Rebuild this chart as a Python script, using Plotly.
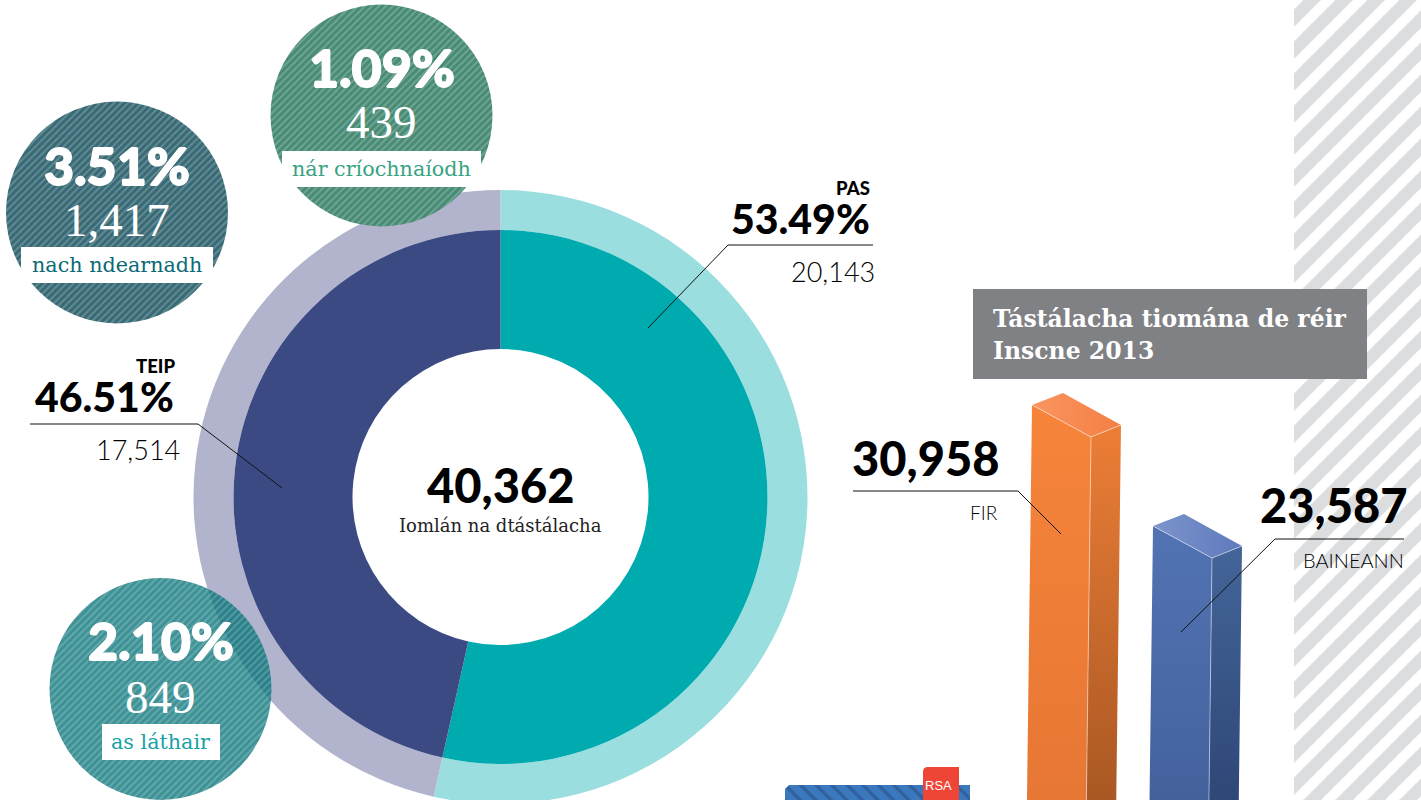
import plotly.graph_objects as go

# ---- data ----
result_labels = ["PAS", "TEIP"]
result_counts = [20143, 17514]
result_pcts = ["53.49%", "46.51%"]
total_tests = "40,362"
total_label = "Iomlán na dtástálacha"
other_labels = ["nach ndearnadh", "nár críochnaíodh", "as láthair"]
other_pcts = ["3.51%", "1.09%", "2.10%"]
other_counts = [1417, 439, 849]
gender_labels = ["FIR", "BAINEANN"]
gender_counts = [30958, 23587]
chart_title = ["Tástálacha tiomána de réir", "Inscne 2013"]

# ---- canvas helpers ----
W, H = 1421, 820
K = 121 / 7371            # pixels per test on the bar scale
BASE = 405 + 30958 * K    # pixel row of a zero-height bar
def pv(py):               # pixel row -> bar-axis value
    return (BASE - py) / K
def yp(py):               # pixel row -> paper
    return 1 - py / H

HEAVY = "Lato"
LIGHT = "Lato"
SLAB = "DejaVu Serif"
THIN_SERIF = "Liberation Serif"

traces = []

# striped background band
traces.append(go.Scatter(
    x=[1294, W, W, 1294, 1294], y=[pv(H), pv(H), pv(0), pv(0), pv(H)],
    mode="none", fill="toself", hoverinfo="skip", showlegend=False,
    fillcolor="white",
    fillpattern=dict(shape="/", fgcolor="#DCDDDF", bgcolor="white", fgopacity=1, size=22.63, solidity=0.55),
))

# blurred logo strip at the bottom
traces.append(go.Scatter(
    x=[789, 970, 970, 785, 785, 789], y=[pv(785), pv(785), pv(H), pv(H), pv(789), pv(785)],
    mode="none", fill="toself", hoverinfo="skip", showlegend=False,
    fillcolor="#3C78BE",
    fillpattern=dict(shape="\\", fgcolor="#2F619F", bgcolor="#3C78BE", fgopacity=1, size=11, solidity=0.3),
))

# 3-D bars built from the values
bar_geo = [
    dict(left=1032, front=1091, right=1121,
         f=("#F6843A", "#E67634"), s=("#EC7E37", "#A65622"), t=("#F99561", "#F47F43")),
    dict(left=1153, front=1212, right=1242,
         f=("#5273B3", "#43609C"), s=("#446599", "#2C4574"), t=("#7C95CC", "#5F79BC")),
]
SLOPE = 0.0127
def vgrad(c):
    return dict(type="vertical", colorscale=[[0, c[1]], [1, c[0]]])
for val, g in zip(gender_counts, bar_geo):
    top = BASE - val * K
    xl, xf, xr = g["left"], g["front"], g["right"]
    yl, yf, yr, yb = top, top + 32, top + 20, top - 12
    dx = lambda py, x0, y0: x0 - SLOPE * (py - y0)
    traces.append(go.Scatter(
        x=[xl, xf, dx(H, xf, yf), dx(H, xl, yl), xl], y=[pv(yl), pv(yf), pv(H), pv(H), pv(yl)],
        mode="none", fill="toself", fillgradient=vgrad(g["f"]), hoverinfo="skip", showlegend=False))
    traces.append(go.Scatter(
        x=[xf, xr, dx(H, xr, yr), dx(H, xf, yf), xf], y=[pv(yf), pv(yr), pv(H), pv(H), pv(yf)],
        mode="none", fill="toself", fillgradient=vgrad(g["s"]), hoverinfo="skip", showlegend=False))
    traces.append(go.Scatter(
        x=[xl, xl + 31, xr, xf, xl], y=[pv(yl), pv(yb), pv(yr), pv(yf), pv(yl)],
        mode="none", fill="toself",
        fillgradient=dict(type="horizontal", colorscale=[[0, g["t"][0]], [1, g["t"][1]]]),
        hoverinfo="skip", showlegend=False))
    traces.append(go.Scatter(
        x=[xl, xf, xr, None, xf, dx(H, xf, yf)], y=[pv(yl), pv(yf), pv(yr), None, pv(yf), pv(H)],
        mode="lines", line=dict(color="rgba(255,255,255,0.6)", width=0.8),
        hoverinfo="skip", showlegend=False))

# donut rings
def pie_domain(cx, cy, r):
    return dict(x=[(cx - r) / W, (cx + r) / W], y=[1 - (cy + r) / H, 1 - (cy - r) / H])

CX, CY = 500.5, 497
traces.append(go.Pie(
    values=result_counts, labels=result_labels, sort=False, direction="clockwise", rotation=0,
    hole=267 / 307, domain=pie_domain(CX, CY, 307), textinfo="none", showlegend=False,
    marker=dict(colors=["#9BDEDF", "#B1B4CC"], line=dict(width=0))))
traces.append(go.Pie(
    values=result_counts, labels=result_labels, sort=False, direction="clockwise", rotation=0,
    hole=148 / 267, domain=pie_domain(CX, CY, 267), textinfo="none", showlegend=False,
    marker=dict(colors=["#00ABB0", "#3C4A84"], line=dict(width=0))))

# hatched bubbles
bubbles = [
    dict(c=(117, 212.5), fg="rgba(255,255,255,0.22)", bg="#386A76", tc="#0B6A78"),
    dict(c=(381.5, 115.5), fg="rgba(255,255,255,0.22)", bg="#488B75", tc="#38A382"),
    dict(c=(160.5, 689), fg="rgba(255,255,255,0.2)", bg="rgba(0,112,117,0.76)", tc="#17A2A6"),
]
for lab, cnt, b in zip(other_labels, other_counts, bubbles):
    traces.append(go.Pie(
        values=[cnt], labels=[lab], sort=False, domain=pie_domain(b["c"][0], b["c"][1], 111),
        textinfo="none", showlegend=False,
        marker=dict(colors=[b["bg"]], line=dict(width=0),
                    pattern=dict(shape="/", fgcolor=b["fg"], bgcolor=b["bg"], fgopacity=1, size=4.95, solidity=0.4))))

fig = go.Figure(traces)

# ---- shapes ----
shapes = []
def rect(x0, y0, x1, y1, color):
    shapes.append(dict(type="rect", xref="x", yref="paper", x0=x0, x1=x1, y0=yp(y0), y1=yp(y1),
                       fillcolor=color, line=dict(width=0), layer="above"))
def leader(pts, color="#111111"):
    for (x0, y0), (x1, y1) in zip(pts[:-1], pts[1:]):
        shapes.append(dict(type="line", xref="x", yref="paper", x0=x0, x1=x1, y0=yp(y0), y1=yp(y1),
                           line=dict(color=color, width=1), layer="above"))

rect(973, 289, 1367, 379, "#808184")
rect(21, 247, 213, 283, "white")
rect(282, 151, 481, 187, "white")
rect(102, 724, 220, 760, "white")
# rounded red logo tab
shapes.append(dict(
    type="path", xref="x", yref="paper", layer="above", fillcolor="#EE4536", line=dict(width=0),
    path=(f"M 923 {yp(H)} L 923 {yp(772)} Q 923 {yp(767)} 928 {yp(767)} L 959 {yp(767)} "
          f"L 959 {yp(H)} Z")))

leader([(873, 245), (728, 245), (648, 328)])
leader([(30, 424), (198, 424), (282, 488)])
leader([(853, 491), (1018, 491), (1061, 534)])
leader([(1404, 539), (1275, 539), (1181, 632)])

# ---- text ----
ann = []
def text(s, x, y, size, family, color="#111111", weight=400, anchor="center", shadow=None):
    font = dict(size=size, family=family, color=color, weight=weight)
    if shadow:
        font["shadow"] = shadow
    ann.append(dict(text=s, x=x, y=yp(y), xref="x", yref="paper", xanchor=anchor, yanchor="middle",
                    showarrow=False, borderpad=0, font=font))

text(result_labels[0], 871, 188, 18.5, HEAVY, "#000000", 900, "right")
text(result_pcts[0], 871, 218, 41, HEAVY, "#000000", 900, "right")
text(f"{result_counts[0]:,}", 876, 271, 27, LIGHT, "#000000", 300, "right")
text(result_labels[1], 176, 366, 18.5, HEAVY, "#000000", 900, "right")
text(result_pcts[1], 175, 396, 41, HEAVY, "#000000", 900, "right")
text(f"{result_counts[1]:,}", 181, 449, 27, LIGHT, "#000000", 300, "right")
text(total_tests, 500.5, 485, 47, HEAVY, "#000000", 900)
text(total_label, 500.5, 525, 18, SLAB, "#222222", 400)

WHITE_BOLD = "0.8px 0 0 white, -0.8px 0 0 white, 0 0.6px 0 white, 0 -0.6px 0 white"
ty = [(165, 220, 265), (67, 122, 169), (640, 697, 742)]
for pct, cnt, lab, b, t in zip(other_pcts, other_counts, other_labels, bubbles, ty):
    cx = b["c"][0]
    text(pct, cx, t[0], 52, HEAVY, "white", 900, shadow=WHITE_BOLD)
    text(f"{cnt:,}", cx, t[1], 47, THIN_SERIF, "white", 400)
    text(lab, cx, t[2], 20.7, SLAB, b["tc"], 400)

text(f"{gender_counts[0]:,}", 1000, 458, 47, HEAVY, "#000000", 900, "right")
text(gender_labels[0], 999, 512, 19, LIGHT, "#000000", 300, "right")
text(f"{gender_counts[1]:,}", 1408, 505, 47, HEAVY, "#000000", 900, "right")
text(gender_labels[1], 1405, 560, 20, LIGHT, "#000000", 300, "right")

text(chart_title[0], 992, 319, 23.5, SLAB, "white", 700, "left")
text(chart_title[1], 992, 351, 23.5, SLAB, "white", 700, "left")
text("RSA", 938, 785, 13, "Liberation Sans", "white", 400)

fig.update_layout(
    width=W, height=H, margin=dict(l=0, r=0, t=0, b=0), paper_bgcolor="white", plot_bgcolor="rgba(0,0,0,0)",
    xaxis=dict(range=[0, W], visible=False, fixedrange=True),
    yaxis=dict(range=[pv(H), pv(0)], visible=False, fixedrange=True),
    shapes=shapes, annotations=ann, showlegend=False,
)

fig.write_html("out.html", config={"displayModeBar": False},
               post_script="document.body.style.margin='0';document.body.style.overflow='hidden';document.documentElement.style.overflow='hidden';")
